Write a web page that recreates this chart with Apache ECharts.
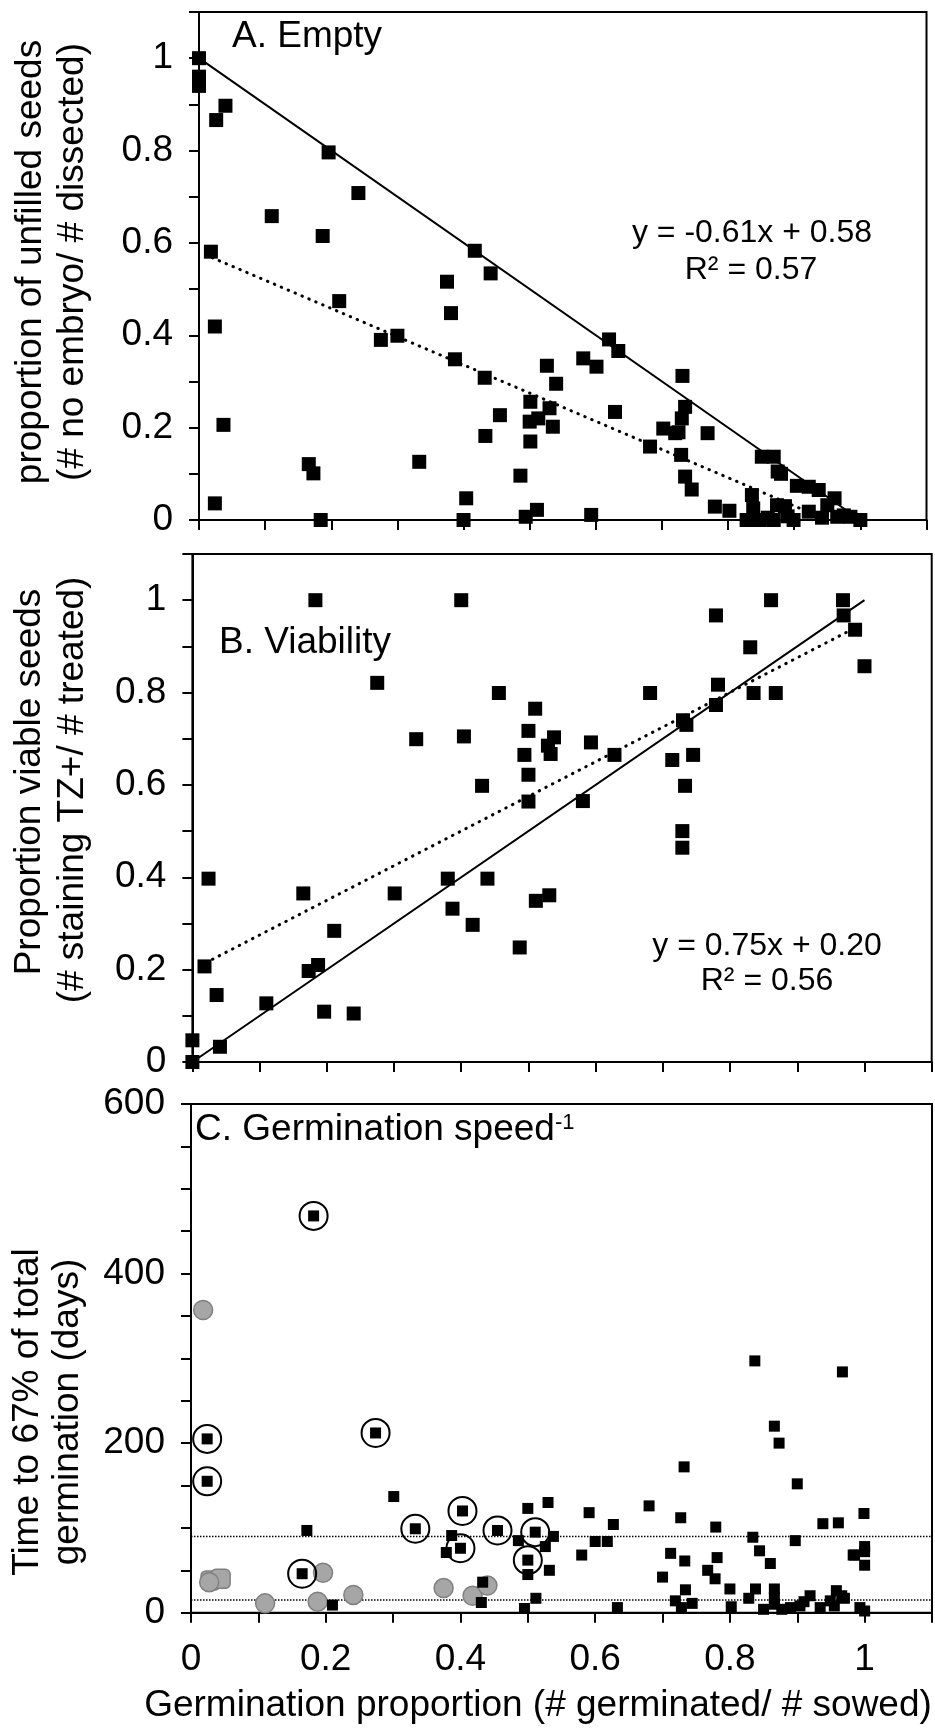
<!DOCTYPE html>
<html>
<head>
<meta charset="utf-8">
<script src="https://cdn.jsdelivr.net/npm/echarts@6/dist/echarts.min.js"></script>
<style>
html,body{margin:0;padding:0;background:#fff;}
#chart{width:935px;height:1729px;}
</style>
</head>
<body>
<div id="chart"></div>
<script>
// ---------- DATA ----------
// Panel A: proportion of unfilled seeds vs germination proportion
const emptyX = [0,0,0,0.04,0.026,0.11,0.187,0.196,0.241,0.018,0.212,0.024,0.275,0.30,0.375,0.381,0.417,0.441,0.387,0.432,0.037,0.455,0.433,0.166,0.173,0.333,0.024,0.184,0.404,0.40,0.486,0.494,0.511,0.501,0.50,0.513,0.501,0.526,0.54,0.53,0.535,
  0.581,0.601,0.62,0.634,0.629,0.682,0.702,0.72,0.731,0.735,0.73,0.725,0.729,0.735,0.745,0.769,0.593,0.78,0.802,0.851,0.869,0.875,0.88,0.904,0.922,0.937,0.961,0.836,0.838,0.874,0.886,0.922,0.95,0.828,0.848,0.869,0.899,0.942,0.965,0.975,0.985,1.0,0.86,0.89];
const emptyY = [1.0,0.96,0.94,0.897,0.866,0.658,0.615,0.796,0.708,0.581,0.474,0.419,0.39,0.399,0.516,0.448,0.583,0.534,0.348,0.308,0.206,0.227,0.182,0.121,0.101,0.126,0.036,0.0,0.047,0.0,0.096,0.007,0.022,0.256,0.213,0.22,0.17,0.334,0.295,0.242,0.202,
  0.35,0.332,0.391,0.366,0.234,0.159,0.198,0.188,0.312,0.245,0.22,0.19,0.141,0.094,0.066,0.188,0.011,0.029,0.02,0.137,0.137,0.105,0.1,0.074,0.072,0.065,0.047,0.054,0.025,0.032,0.03,0.018,0.032,0,0,0,0,0.005,0.007,0.01,0.007,0.0,0.005,0.008];
const boundA = [[0,1],[1,0]];            // solid line
const trendA = [[0.02,0.568],[0.95,0.0]]; // dotted trend line
const eqA = ['y = -0.61x + 0.58','R\u00B2 = 0.57'];

// Panel B: proportion viable seeds vs germination proportion
const viabX = [0.183,0.40,0.275,0.456,0.51,0.333,0.404,0.50,0.494,0.50,0.529,0.533,0.538,0.431,0.50,0.024,0.165,0.301,0.38,0.439,0.387,0.417,0.511,0.531,0.487,0.211,0.018,0.173,0.187,0.036,0.11,0.196,0.24,0.0,0.041,0.0,
  0.593,0.628,0.681,0.581,0.73,0.735,0.714,0.745,0.733,0.729,0.729,0.779,0.782,0.779,0.83,0.835,0.868,0.861,0.968,0.969,0.986,1.0];
const viabY = [1.0,1.0,0.821,0.799,0.765,0.699,0.705,0.717,0.665,0.622,0.685,0.667,0.703,0.598,0.564,0.397,0.365,0.365,0.397,0.397,0.332,0.297,0.349,0.361,0.248,0.284,0.207,0.197,0.21,0.145,0.127,0.109,0.105,0.047,0.033,0.0,
  0.692,0.665,0.799,0.565,0.74,0.73,0.654,0.665,0.598,0.50,0.464,0.967,0.817,0.773,0.898,0.799,0.799,1.0,1.0,0.967,0.936,0.857];
const boundB = [[0,0],[1,1]];
const trendB = [[0.02,0.215],[0.998,0.949]];
const eqB = ['y = 0.75x + 0.20','R\u00B2 = 0.56'];

// Panel C: time to 67% of total germination (days)
const sqX = [0.172,0.301,0.387,0.379,0.50,0.53,0.486,0.526,0.50,0.532,0.433,0.431,0.21,0.512,0.495,0.538,
  0.591,0.627,0.60,0.618,0.58,0.68,0.732,0.727,0.712,0.733,0.70,0.734,0.719,0.744,0.728,0.633,0.779,0.781,0.767,0.778,0.80,0.802,0.837,0.866,0.873,0.90,0.834,0.844,0.86,0.838,0.828,0.85,0.866,0.866,0.866,0.877,0.897,0.919,0.934,0.904,0.89,0.938,0.961,0.967,0.958,0.966,0.949,0.955,0.999,1.0,0.983,1.0,1.0,0.993,1.0,0.985,0.97,0.91];
const sqY = [97,137,91,71,123,130,85,78,45,50,36,12,9,17,5,90,
  118,104,84,84,68,126,172,112,70,61,42,27,14,11,6,6,101,65,50,40,28,7,297,220,200,152,89,73,58,28,17,4,28,18,10,4,85,20,6,8,6,105,106,284,26,20,14,8,117,78,68,72,56,6,2,68,17,13];
const circX = [0.182,0.024,0.024,0.274,0.333,0.403,0.40,0.455,0.511,0.50,0.165];
const circY = [468,205,155,212,99,120,76,97,95,62,46];
const grayCircX = [0.018,0.027,0.196,0.11,0.188,0.241,0.375,0.418,0.44];
const grayCircY = [357,36,47,11,13,21,29,20,32];
const graySqX = [0.029,0.044];
const graySqY = [38,40];
const refLinesC = [90,15];

// tick label settings
const ticksAB = {min:0, max:1.1, interval:0.1};
const ticksCy = {min:0, max:600, interval:50};

// ---------- CHART ----------
const FONT = '"Liberation Sans", Arial, sans-serif';
const BLACK = '#000';
const zip = (xs, ys) => xs.map((x, i) => [x, ys[i]]);
const evenTenth = v => { const r = Math.round(v * 10); return (r % 2 === 0 && r <= 10) ? String(r / 10) : ''; };

function xAxisDef(grid, showLabels) {
  return {
    gridIndex: grid, type: 'value', min: ticksAB.min, max: ticksAB.max, interval: ticksAB.interval,
    axisLine: {show: true, onZero: false, lineStyle: {color: BLACK, width: 2}},
    axisTick: {show: true, length: 10, lineStyle: {color: BLACK, width: 2}},
    axisLabel: {show: showLabels, formatter: evenTenth, color: BLACK, fontFamily: FONT, fontSize: 37, margin: 29, showMaxLabel: true},
    splitLine: {show: false}
  };
}
function yAxisDef(grid, t, fmt) {
  return {
    gridIndex: grid, type: 'value', min: t.min, max: t.max, interval: t.interval,
    axisLine: {show: true, onZero: false, lineStyle: {color: BLACK, width: 2}},
    axisTick: {show: true, length: 10, lineStyle: {color: BLACK, width: 2}},
    axisLabel: {show: true, formatter: fmt, color: BLACK, fontFamily: FONT, fontSize: 37, margin: 26},
    splitLine: {show: false}
  };
}
const gridStyle = {show: true, borderColor: BLACK, borderWidth: 2, backgroundColor: 'rgba(0,0,0,0)'};

const chart = echarts.init(document.getElementById('chart'), null, {renderer: 'canvas'});

function textEl(txt, x, y, size, align, rot) {
  return {
    type: 'text', x: x, y: y, rotation: rot || 0, z: 100,
    style: {text: txt, fill: BLACK, font: size + 'px ' + FONT, align: align || 'left', verticalAlign: 'middle'}
  };
}

const option = {
  animation: false,
  backgroundColor: '#fff',
  grid: [
    Object.assign({left: 199, top: 12, width: 727.5, height: 508}, gridStyle),
    Object.assign({left: 192.4, top: 554, width: 739.3, height: 508}, gridStyle),
    Object.assign({left: 191, top: 1104, width: 744, height: 508.7}, gridStyle)
  ],
  xAxis: [xAxisDef(0, false), xAxisDef(1, false), xAxisDef(2, true)],
  yAxis: [
    yAxisDef(0, ticksAB, evenTenth),
    yAxisDef(1, ticksAB, evenTenth),
    yAxisDef(2, ticksCy, v => (v % 200 === 0 ? String(v) : ''))
  ],
  series: [
    // Panel A
    {type: 'line', xAxisIndex: 0, yAxisIndex: 0, data: boundA, symbol: 'none', z: 2,
      lineStyle: {color: BLACK, width: 2}},
    {type: 'line', xAxisIndex: 0, yAxisIndex: 0, data: trendA, symbol: 'none', z: 2,
      lineStyle: {color: BLACK, width: 3, type: [0.5, 7], cap: 'round'}},
    {type: 'scatter', xAxisIndex: 0, yAxisIndex: 0, data: zip(emptyX, emptyY), symbol: 'rect', symbolSize: 14, z: 3,
      itemStyle: {color: BLACK, opacity: 1}},
    // Panel B
    {type: 'line', xAxisIndex: 1, yAxisIndex: 1, data: boundB, symbol: 'none', z: 2,
      lineStyle: {color: BLACK, width: 2}},
    {type: 'line', xAxisIndex: 1, yAxisIndex: 1, data: trendB, symbol: 'none', z: 2,
      lineStyle: {color: BLACK, width: 3, type: [0.5, 7], cap: 'round'}},
    {type: 'scatter', xAxisIndex: 1, yAxisIndex: 1, data: zip(viabX, viabY), symbol: 'rect', symbolSize: 14, z: 3,
      itemStyle: {color: BLACK, opacity: 1}},
    // Panel C reference lines
    ...refLinesC.map(v => ({type: 'line', xAxisIndex: 2, yAxisIndex: 2, data: [[0, v], [1.1, v]], symbol: 'none', z: 2,
      lineStyle: {color: BLACK, width: 1.5, type: [1.5, 1.5]}})),
    {type: 'scatter', xAxisIndex: 2, yAxisIndex: 2, data: zip(graySqX, graySqY), symbol: 'roundRect', symbolSize: 19, z: 3,
      itemStyle: {color: '#a6a6a6', borderColor: '#808080', borderWidth: 1.5, opacity: 1}},
    {type: 'scatter', xAxisIndex: 2, yAxisIndex: 2, data: zip(grayCircX, grayCircY), symbol: 'circle', symbolSize: 19, z: 4,
      itemStyle: {color: '#a6a6a6', borderColor: '#808080', borderWidth: 1.5, opacity: 1}},
    {type: 'scatter', xAxisIndex: 2, yAxisIndex: 2, data: zip(sqX, sqY), symbol: 'rect', symbolSize: 11, z: 5,
      itemStyle: {color: BLACK, opacity: 1}},
    {type: 'scatter', xAxisIndex: 2, yAxisIndex: 2, data: zip(circX, circY), symbol: 'rect', symbolSize: 11, z: 5,
      itemStyle: {color: BLACK, opacity: 1}},
    {type: 'scatter', xAxisIndex: 2, yAxisIndex: 2, data: zip(circX, circY), symbol: 'circle', symbolSize: 28, z: 6,
      itemStyle: {color: 'rgba(0,0,0,0)', borderColor: BLACK, borderWidth: 2, opacity: 1}}
  ],
  graphic: [
    textEl('A. Empty', 232, 37, 37, 'left'),
    textEl(eqA[0], 752, 233, 32, 'center'),
    textEl(eqA[1], 751, 270, 32, 'center'),
    textEl('B. Viability', 219, 643, 37, 'left'),
    textEl(eqB[0], 767, 946, 32, 'center'),
    textEl(eqB[1], 767, 981, 32, 'center'),
    {
      type: 'text', x: 195, y: 1130, z: 100,
      style: {
        text: '{a|C. Germination speed}{s|-1}',
        verticalAlign: 'middle', align: 'left',
        rich: {
          a: {fontFamily: FONT, fontSize: 37, fill: BLACK, color: BLACK},
          s: {fontFamily: FONT, fontSize: 22, fill: BLACK, color: BLACK, verticalAlign: 'top'}
        }
      }
    },
    textEl('Germination proportion (# germinated/ # sowed)', 538, 1706, 37, 'center'),
    textEl('proportion of unfilled seeds', 31, 262, 37, 'center', Math.PI / 2),
    textEl('(# no embryo/ # dissected)', 73, 262, 37, 'center', Math.PI / 2),
    textEl('Proportion viable seeds', 30, 782, 37, 'center', Math.PI / 2),
    textEl('(# staining TZ+/ # treated)', 73, 790, 37, 'center', Math.PI / 2),
    textEl('Time to 67% of total', 28, 1412, 37, 'center', Math.PI / 2),
    textEl('germination (days)', 68, 1412, 37, 'center', Math.PI / 2)
  ]
};
chart.setOption(option);
</script>
</body>
</html>
